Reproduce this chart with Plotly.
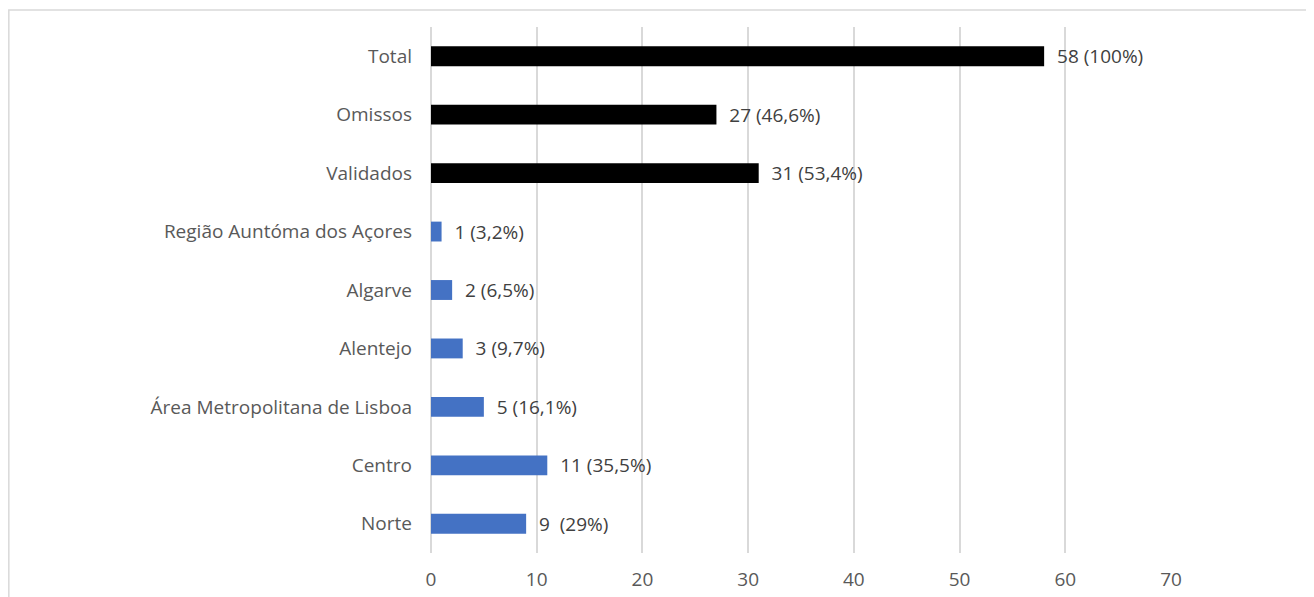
import plotly.graph_objects as go

categories = ["Norte", "Centro", "Área Metropolitana de Lisboa", "Alentejo", "Algarve",
              "Região Auntóma dos Açores", "Validados", "Omissos", "Total"]
values = [9, 11, 5, 3, 2, 1, 31, 27, 58]
labels = ["9  (29%)", "11 (35,5%)", "5 (16,1%)", "3 (9,7%)", "2 (6,5%)",
          "1 (3,2%)", "31 (53,4%)", "27 (46,6%)", "58 (100%)"]
colors = ["#4472C4"] * 6 + ["#000000"] * 3
x_ticks = [0, 10, 20, 30, 40, 50, 60, 70]

fig = go.Figure(go.Bar(
    y=categories, x=values, orientation="h",
    marker=dict(color=colors, line=dict(width=0)),
    text=["  " + t for t in labels], textposition="outside",
    constraintext="none",
    textfont=dict(size=19, color="#404040", family="Open Sans"),
    cliponaxis=False, width=0.34,
))

fig.update_layout(
    width=1314, height=597,
    margin=dict(l=423, r=151, t=19, b=52),
    paper_bgcolor="white", plot_bgcolor="white",
    showlegend=False,
    font=dict(family="Open Sans", size=19, color="#595959"),
    xaxis=dict(range=[0, 70], tickvals=x_ticks, showgrid=True, gridcolor="#d9d9d9",
               gridwidth=1.5, zeroline=True, zerolinecolor="#d9d9d9", zerolinewidth=1.5,
               showline=False, ticks="", ticklabelstandoff=13,
               tickfont=dict(size=19, color="#595959")),
    yaxis=dict(showgrid=False, showline=False, ticks="", ticklabelstandoff=18,
               tickfont=dict(size=19, color="#595959")),
    shapes=[dict(type="rect", xref="paper", yref="paper", x0=-0.5705, x1=1.2,
                 y0=-0.1, y1=1.0323, line=dict(color="#d9d9d9", width=1.5),
                 fillcolor="rgba(0,0,0,0)", layer="below")],
)

fig.write_html("out.html")
